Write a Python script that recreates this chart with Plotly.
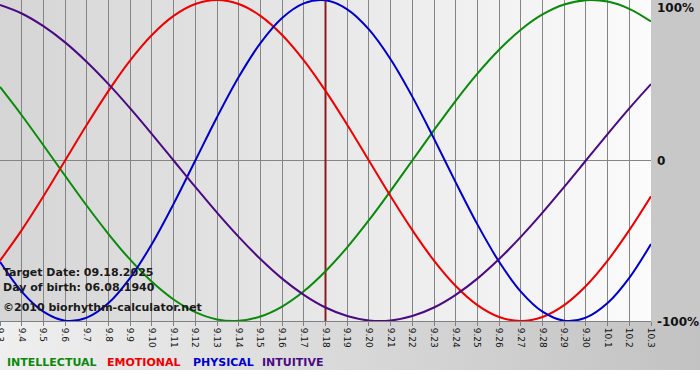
import plotly.graph_objects as go

W, H = 700, 380
PLOT_R, PLOT_B = 651, 321  # plot area right / bottom edges in px

dates = ["9.3", "9.4", "9.5", "9.6", "9.7", "9.8", "9.9", "9.10", "9.11", "9.12",
         "9.13", "9.14", "9.15", "9.16", "9.17", "9.18", "9.19", "9.20", "9.21",
         "9.22", "9.23", "9.24", "9.25", "9.26", "9.27", "9.28", "9.29", "9.30",
         "10.1", "10.2", "10.3"]

intellectual = [0.458, 0.282, 0.095, -0.095, -0.282, -0.458, -0.618, -0.756, -0.866,
                -0.945, -0.990, -0.999, -0.972, -0.910, -0.815, -0.690, -0.541, -0.372,
                -0.189, 0.0, 0.189, 0.372, 0.541, 0.690, 0.815, 0.910, 0.972, 0.999,
                0.990, 0.945, 0.866]
emotional = [-0.624, -0.434, -0.223, 0.0, 0.223, 0.434, 0.624, 0.782, 0.901, 0.975,
             1.0, 0.975, 0.901, 0.782, 0.624, 0.434, 0.223, 0.0, -0.223, -0.434,
             -0.624, -0.782, -0.901, -0.975, -1.0, -0.975, -0.901, -0.782, -0.624,
             -0.434, -0.223]
physical = [-0.631, -0.817, -0.942, -0.998, -0.979, -0.888, -0.731, -0.520, -0.270,
            0.0, 0.270, 0.520, 0.731, 0.888, 0.979, 0.998, 0.942, 0.817, 0.631, 0.398,
            0.136, -0.136, -0.398, -0.631, -0.817, -0.942, -0.998, -0.979, -0.888,
            -0.731, -0.520]
intuitive = [0.969, 0.916, 0.837, 0.736, 0.614, 0.476, 0.325, 0.165, 0.0, -0.165,
             -0.325, -0.476, -0.614, -0.736, -0.837, -0.916, -0.969, -0.997, -0.997,
             -0.969, -0.916, -0.837, -0.736, -0.614, -0.476, -0.325, -0.165, 0.0,
             0.165, 0.325, 0.476]

target_date = "9.18"
y_tick_vals = [1, 0, -1]
y_tick_text = ["100%", "0", "-100%"]

series = [("INTELLECTUAL", intellectual, "#0a8a0a"),
          ("EMOTIONAL", emotional, "#ee0000"),
          ("PHYSICAL", physical, "#0000cc"),
          ("INTUITIVE", intuitive, "#4b0a82")]

FONT = "DejaVu Sans"

fig = go.Figure()

# ---- background subplot (xy) in pixel coordinates ----
fig.add_trace(go.Scatter(x=[0, PLOT_R, PLOT_R, 0, 0], y=[0, 0, PLOT_B, PLOT_B, 0],
                         mode="lines", line=dict(width=0), fill="toself",
                         fillgradient=dict(type="horizontal",
                                           colorscale=[[0, "#d5d5d5"], [1, "#fbfbfb"]]),
                         hoverinfo="skip", showlegend=False, xaxis="x", yaxis="y"))
fig.add_trace(go.Scatter(x=[PLOT_R, W, W, PLOT_R, PLOT_R], y=[0, 0, PLOT_B, PLOT_B, 0],
                         mode="lines", line=dict(width=0), fill="toself",
                         fillcolor="#c8c8c8",
                         hoverinfo="skip", showlegend=False, xaxis="x", yaxis="y"))
fig.add_trace(go.Scatter(x=[0, W, W, 0, 0], y=[PLOT_B, PLOT_B, 370, 370, PLOT_B],
                         mode="lines", line=dict(width=0), fill="toself",
                         fillgradient=dict(type="horizontal",
                                           colorscale=[[0, "#efefef"], [1, "#c2c2c2"]]),
                         hoverinfo="skip", showlegend=False, xaxis="x", yaxis="y"))

# ---- main chart (x2y2) ----
xi = list(range(len(dates)))
ti = dates.index(target_date)
fig.add_trace(go.Scatter(x=[ti, ti], y=[-1, 1], mode="lines",
                         line=dict(color="#8b1c1c", width=2),
                         hoverinfo="skip", showlegend=False, xaxis="x2", yaxis="y2"))
for name, vals, col in series:
    fig.add_trace(go.Scatter(x=xi, y=vals, mode="lines", name=name,
                             line=dict(color=col, width=2, shape="spline", smoothing=1.0),
                             showlegend=False, xaxis="x2", yaxis="y2"))

annotations = []
for txt, y in [("Target Date: 09.18.2025", 272),
               ("Day of birth: 06.08.1940", 287),
               ("©2010 biorhythm-calculator.net", 307)]:
    annotations.append(dict(text=txt, x=1 / W, y=1 - y / H, xref="paper", yref="paper",
                            xanchor="left", yanchor="middle", showarrow=False,
                            font=dict(family=FONT, size=11, color="#1a1a1a", weight="bold")))
for txt, y in zip(y_tick_text, [8, 161, 322]):
    annotations.append(dict(text=txt, x=655 / W, y=1 - y / H, xref="paper", yref="paper",
                            xanchor="left", yanchor="middle", showarrow=False,
                            font=dict(family=FONT, size=12, color="#111111", weight="bold")))
for (name, _, col), x0 in zip(series, [5, 105, 191, 260]):
    annotations.append(dict(text=name, x=x0 / W, y=1 - 362 / H, xref="paper", yref="paper",
                            xanchor="left", yanchor="middle", showarrow=False,
                            font=dict(family=FONT, size=11, color=col, weight="bold")))

fig.update_layout(
    width=W, height=H,
    margin=dict(l=0, r=0, t=0, b=0, pad=0, autoexpand=False),
    paper_bgcolor="white",
    plot_bgcolor="rgba(0,0,0,0)",
    showlegend=False,
    xaxis=dict(domain=[0, 1], range=[0, W], visible=False, fixedrange=True,
               automargin=False),
    yaxis=dict(domain=[0, 1], range=[H, 0], visible=False, fixedrange=True,
               automargin=False),
    xaxis2=dict(domain=[0, PLOT_R / W], range=[0, len(dates) - 1], anchor="y2",
                tickvals=xi, ticktext=dates, tickangle=90,
                tickfont=dict(family=FONT, size=9, color="#111111"),
                ticklabeloverflow="allow", automargin=False,
                ticks="outside", ticklen=4, tickcolor="#808080",
                showgrid=True, gridcolor="#858585", gridwidth=1,
                showline=True, linecolor="#808080", linewidth=1,
                zeroline=False, fixedrange=True),
    yaxis2=dict(domain=[1 - PLOT_B / H, 1], range=[-1, 1], anchor="x2",
                tickvals=y_tick_vals, showticklabels=False, automargin=False,
                showgrid=True, gridcolor="#858585", gridwidth=1,
                zeroline=False, fixedrange=True),
    annotations=annotations,
)

fig.write_html("out.html",
               post_script="document.body.style.margin='0';"
                           "document.body.style.overflow='hidden';",
               config={"displayModeBar": False})
